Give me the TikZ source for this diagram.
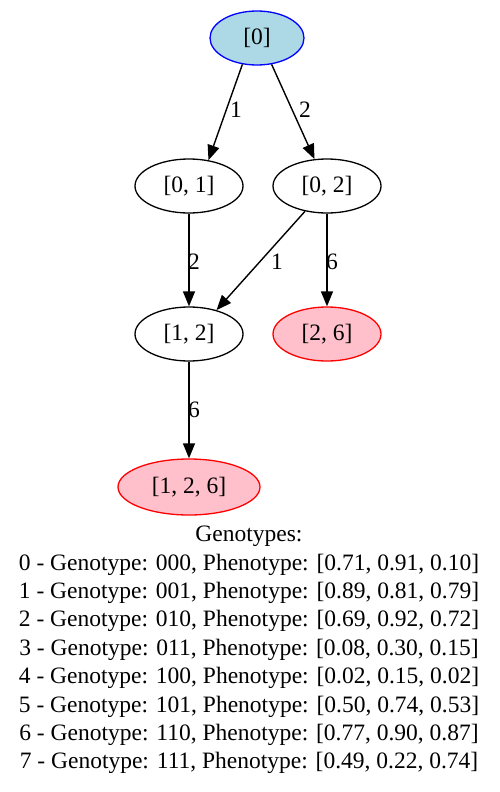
\documentclass[tikz,border=0pt]{standalone}
\usepackage{fontspec}
\setmainfont{Liberation Serif}
\usetikzlibrary{arrows.meta,shapes.geometric}
\definecolor{lblue}{HTML}{ADD8E6}
\definecolor{lpink}{HTML}{FFC0CB}
\begin{document}
\begin{tikzpicture}[x=1pt,y=-1pt,
  every node/.style={font=\fontsize{23.5}{28}\selectfont},
  st/.style={ellipse,draw=black,line width=1.3pt,inner sep=0pt},
  stroot/.style={st,draw=blue,fill=lblue},
  stleaf/.style={st,draw=red,fill=lpink},
  edge/.style={line width=1.4pt,-{Triangle[length=15pt,width=12pt]}},
  lab/.style={inner sep=1pt}]
\useasboundingbox (0,0) rectangle (499,792);
\node[stroot,minimum width=94pt,minimum height=54pt] (n0) at (257,38) {[0]};
\node[st,minimum width=108pt,minimum height=54pt] (n01) at (189,186) {[0, 1]};
\node[st,minimum width=108pt,minimum height=54pt] (n02) at (327,186) {[0, 2]};
\node[st,minimum width=108pt,minimum height=54pt] (n12) at (189,334) {[1, 2]};
\node[stleaf,minimum width=108pt,minimum height=54pt] (n26) at (327,334) {[2, 6]};
\node[stleaf,minimum width=142pt,minimum height=56pt] (n126) at (189,487) {[1, 2, 6]};
\draw[edge] (n0.241) -- (n01.53);
\draw[edge] (n0.299) -- (n02.115);
\draw[edge] (n01) -- (n12);
\draw[edge] (n02.229) -- (n12.41);
\draw[edge] (n02) -- (n26);
\draw[edge] (n12) -- (n126);
\node[lab] (l1) at (236,110) {1};
\node[lab] (l2) at (305,110) {2};
\node[lab] (l3) at (194,262) {2};
\node[lab] (l4) at (277,262) {1};
\node[lab] (l5) at (332,262) {6};
\node[lab] (l6) at (194,410) {6};
\node[align=center,font=\fontsize{23.5}{28.4}\selectfont] (txt) at (249,650) {Genotypes:\\
0 - Genotype: 000, Phenotype: [0.71, 0.91, 0.10]\\
1 - Genotype: 001, Phenotype: [0.89, 0.81, 0.79]\\
2 - Genotype: 010, Phenotype: [0.69, 0.92, 0.72]\\
3 - Genotype: 011, Phenotype: [0.08, 0.30, 0.15]\\
4 - Genotype: 100, Phenotype: [0.02, 0.15, 0.02]\\
5 - Genotype: 101, Phenotype: [0.50, 0.74, 0.53]\\
6 - Genotype: 110, Phenotype: [0.77, 0.90, 0.87]\\
7 - Genotype: 111, Phenotype: [0.49, 0.22, 0.74]};
\end{tikzpicture}
\end{document}
